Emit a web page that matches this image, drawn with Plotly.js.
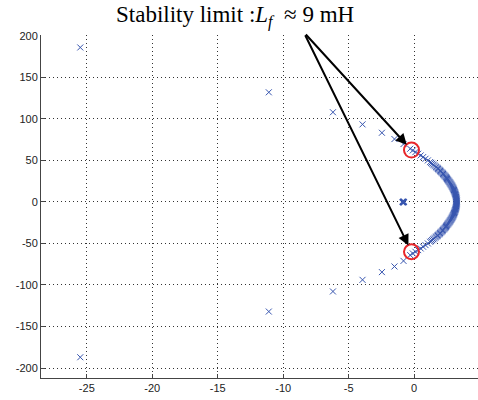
<!DOCTYPE html>
<html>
<head>
<meta charset="utf-8">
<script src="https://cdn.plot.ly/plotly-3.0.1.min.js"></script>
<style>html,body{margin:0;padding:0;background:#fff;overflow:hidden}</style>
</head>
<body>
<div id="chart" style="width:478px;height:400px"></div>
<script>
// Upper branch of root locus
const upperX = [3.25,3.25,3.25,3.245,3.24,3.235,3.23,3.22,3.21,3.2,3.19,3.175,3.16,3.145,3.13,3.115,3.10,3.08,3.06,3.04,3.02,3.0,2.98,2.955,2.93,2.905,2.88,2.85,2.82,2.79,2.76,2.73,2.70,2.665,2.63,2.595,2.56,2.525,2.49,2.455,2.42,2.38,2.34,2.30,2.26,2.215,2.17,2.125,2.08,2.035,1.99,1.94,1.89,1.84,1.79,1.735,1.68,1.61,1.53,1.46,1.38,1.30,1.22,1.05,0.87,0.69,0.5,0.31,0.1,-0.1,-0.3,-0.81,-1.5,-2.46,-3.94,-6.2,-11.1,-25.5];
const upperY = [0,0.75,1.5,2.25,3,3.75,4.5,5.25,6,6.75,7.5,8.25,9,9.75,10.5,11.25,12,12.75,13.5,14.25,15,15.75,16.5,17.25,18,18.75,19.5,20.25,21,21.75,22.5,23.25,24,24.75,25.5,26.25,27,27.75,28.5,29.25,30,30.75,31.5,32.25,33,33.75,34.5,35.25,36,36.75,37.5,38.25,39,39.75,40.5,41.25,42,43,44,45,46,47,48,50,52,54,56,58,60,62,64,69.7,75.7,83.3,93.4,108,132,186];
// Lower branch of root locus
const lowerX = [3.25,3.25,3.245,3.24,3.235,3.23,3.22,3.21,3.2,3.19,3.175,3.16,3.145,3.13,3.115,3.10,3.08,3.06,3.04,3.02,3.0,2.98,2.955,2.93,2.905,2.88,2.85,2.82,2.79,2.76,2.73,2.70,2.665,2.63,2.595,2.56,2.525,2.49,2.455,2.42,2.38,2.34,2.30,2.26,2.215,2.17,2.125,2.08,2.035,1.99,1.94,1.89,1.84,1.79,1.735,1.68,1.61,1.53,1.46,1.38,1.30,1.22,1.05,0.87,0.69,0.5,0.31,0.1,-0.1,-0.3,-0.81,-1.5,-2.46,-3.94,-6.2,-11.1,-25.5];
const lowerY = [-0.75,-1.5,-2.25,-3,-3.75,-4.5,-5.25,-6,-6.75,-7.5,-8.25,-9,-9.75,-10.5,-11.25,-12,-12.75,-13.5,-14.25,-15,-15.75,-16.5,-17.25,-18,-18.75,-19.5,-20.25,-21,-21.75,-22.5,-23.25,-24,-24.75,-25.5,-26.25,-27,-27.75,-28.5,-29.25,-30,-30.75,-31.5,-32.25,-33,-33.75,-34.5,-35.25,-36,-36.75,-37.5,-38.25,-39,-39.75,-40.5,-41.25,-42,-43,-44,-45,-46,-47,-48,-50,-52,-54,-56,-58,-60,-62,-64,-71,-77.7,-84.5,-93.8,-107.8,-132,-187];
// Real-axis poles
const realX = [-0.86,-0.80];
const realY = [0,0];
// Stability-limit points (circled)
const limitX = [-0.2,-0.2];
const limitY = [62.5,-60];
const xTicks = [-25,-20,-15,-10,-5,0,5];
const yTicks = [-200,-150,-100,-50,0,50,100,150,200];

const blue = 'rgb(55,85,175)';
const mk = {symbol:'x-thin-open', size:6, color:blue, line:{color:blue, width:1}};

const traces = [
  {x:upperX, y:upperY, type:'scatter', mode:'markers', marker:mk, hoverinfo:'x+y', cliponaxis:false},
  {x:lowerX, y:lowerY, type:'scatter', mode:'markers', marker:mk, hoverinfo:'x+y', cliponaxis:false},
  {x:realX, y:realY, type:'scatter', mode:'markers', marker:{symbol:'x-thin-open', size:6, color:blue, line:{color:blue, width:2}}},
  {x:limitX, y:limitY, type:'scatter', mode:'markers', marker:{symbol:'circle-open', size:15, color:'#e8262a', line:{color:'#e8262a', width:2}}}
];

const axisCommon = {
  showline:true, linecolor:'#444', linewidth:1, mirror:false,
  ticks:'inside', ticklen:4, tickcolor:'#444',
  showgrid:true, gridcolor:'#333', gridwidth:1, griddash:'1px,3px',
  zeroline:false, tickfont:{family:'Liberation Sans, Arial, sans-serif', size:11, color:'#222'}
};

const arrowCommon = {
  xref:'x', yref:'y', axref:'pixel', ayref:'pixel', text:'', showarrow:true,
  arrowhead:2, arrowsize:1.1, arrowwidth:2, arrowcolor:'#000', standoff:7
};

const layout = {
  width:478, height:400,
  margin:{l:41, r:0, t:35, b:22},
  paper_bgcolor:'#fff', plot_bgcolor:'#fff',
  showlegend:false,
  xaxis:Object.assign({}, axisCommon, {range:[-28.5,4.88], tickvals:xTicks, ticktext:xTicks.map(String)}),
  yaxis:Object.assign({}, axisCommon, {range:[-212,201], tickvals:yTicks, ticktext:yTicks.map(String)}),
  annotations:[
    {xref:'paper', yref:'paper', x:0.444, y:1.0, yanchor:'bottom', xanchor:'center', yshift:2,
     showarrow:false,
     text:'Stability limit :<i>L</i><sub><i>f</i></sub>  ≈ 9 mH',
     font:{family:'Liberation Serif, Times New Roman, serif', size:23, color:'#000'}},
    Object.assign({}, arrowCommon, {x:limitX[0], y:limitY[0], ax:-107, ay:-117}),
    Object.assign({}, arrowCommon, {x:limitX[1], y:limitY[1], ax:-107, ay:-218})
  ]
};

Plotly.newPlot('chart', traces, layout, {displayModeBar:false, staticPlot:true});
</script>
</body>
</html>
